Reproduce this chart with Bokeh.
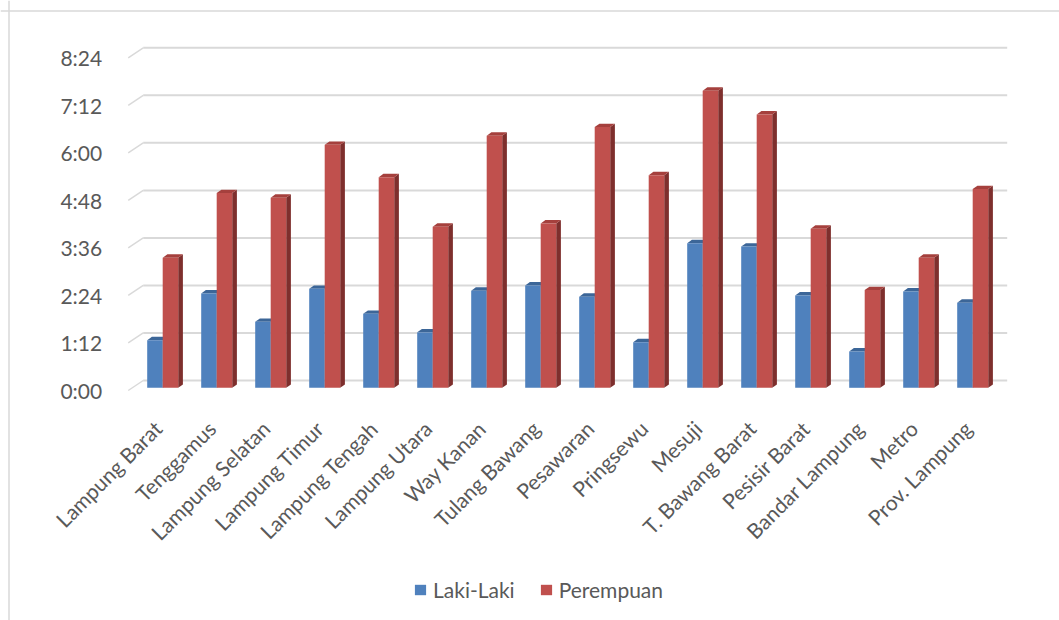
import math

from bokeh.plotting import figure
from bokeh.models import Range1d, LinearAxis, FixedTicker, Legend, Span
from bokeh.embed import file_html
from bokeh.resources import INLINE

# Rata-rata waktu (menit) per kabupaten/kota
categories = [
    "Lampung Barat", "Tenggamus", "Lampung Selatan", "Lampung Timur",
    "Lampung Tengah", "Lampung Utara", "Way Kanan", "Tulang Bawang",
    "Pesawaran", "Pringsewu", "Mesuji", "T. Bawang Barat", "Pesisir Barat",
    "Bandar Lampung", "Metro", "Prov. Lampung",
]
laki_laki = [72, 143, 100, 150, 112, 84, 147, 155, 138, 69, 219, 214, 140, 55, 146, 129]
perempuan = [197, 295, 288, 368, 319, 244, 382, 249, 395, 322, 450, 414, 241, 148, 197, 301]

tick_minutes = [0, 72, 144, 216, 288, 360, 432, 504]
tick_labels = ["0:00", "1:12", "2:24", "3:36", "4:48", "6:00", "7:12", "8:24"]

BLUE, BLUE_TOP, BLUE_SIDE = "#4F81BD", "#3C6698", "#2F5079"
RED, RED_TOP, RED_SIDE = "#C0504D", "#A5403D", "#7E2F2D"
GRID = "#D9D9D9"
TEXT = "#595959"
FONT = "Lato"

# canvas and oblique-projection geometry (pixels)
W, H = 1059, 620
WALL_X0, WALL_Y0 = 142.7, 380.0      # back wall origin on the canvas
PX_CAT = 54.0                        # width of one category
PX_MIN = 47.53 / 72.0                # pixels per minute


def dx(px):
    return px / PX_CAT


def dy(px):
    return px / PX_MIN


LBL_DX, LBL_DY = dx(-15), dy(-10)    # front edge of the floor (axis labels)
BAR_DX, BAR_DY = dx(-7.5), dy(-7.3)  # plane of the column fronts
DEP_DX, DEP_DY = dx(4.7), dy(3.4)    # column depth
BAR_W = dx(15.5)
CAT_LABEL_DX = dx(-5)                # anchor of the rotated category labels

x_start, x_end = -WALL_X0 / PX_CAT, (W - WALL_X0) / PX_CAT
y_start, y_end = -(H - WALL_Y0) / PX_MIN, WALL_Y0 / PX_MIN

p = figure(
    width=W, height=H,
    x_range=Range1d(x_start, x_end), y_range=Range1d(y_start, y_end),
    x_axis_type=None, y_axis_type=None,
    output_backend="svg", toolbar_location=None,
    min_border=0, outline_line_color=None,
    background_fill_color="white", border_fill_color="white",
)
p.xgrid.visible = False
p.ygrid.visible = False

# chart-area border (top and left)
p.add_layout(Span(location=x_start + dx(8.5), dimension="height",
                  line_color=GRID, line_width=1.5))
p.add_layout(Span(location=y_end - dy(10.5), dimension="width",
                  line_color=GRID, line_width=1.5))

# back-wall gridlines and their floor diagonals
n = len(categories)
p.segment(x0=[0] * len(tick_minutes), y0=tick_minutes,
          x1=[n] * len(tick_minutes), y1=tick_minutes,
          line_color=GRID, line_width=2)
p.segment(x0=[LBL_DX] * len(tick_minutes), y0=[t + LBL_DY for t in tick_minutes],
          x1=[0] * len(tick_minutes), y1=tick_minutes,
          line_color=GRID, line_width=1.5)


def columns(values, offset, front, top, side):
    lefts, rights, bottoms, tops = [], [], [], []
    for k, v in enumerate(values):
        c = k + 0.5 + BAR_DX
        left = c + offset
        lefts.append(left)
        rights.append(left + BAR_W)
        bottoms.append(BAR_DY)
        tops.append(v + BAR_DY)
    p.patches(
        xs=[[r, r + DEP_DX, r + DEP_DX, r] for r in rights],
        ys=[[b, b + DEP_DY, t + DEP_DY, t] for b, t in zip(bottoms, tops)],
        fill_color=side, line_color=None)
    p.patches(
        xs=[[l, r, r + DEP_DX, l + DEP_DX] for l, r in zip(lefts, rights)],
        ys=[[t, t, t + DEP_DY, t + DEP_DY] for t in tops],
        fill_color=top, line_color=None)
    return p.quad(left=lefts, right=rights, bottom=bottoms, top=tops,
                  fill_color=front, line_color=None)


r_laki = columns(laki_laki, -BAR_W, BLUE, BLUE_TOP, BLUE_SIDE)
r_perempuan = columns(perempuan, 0.0, RED, RED_TOP, RED_SIDE)

# value axis on the front edge of the floor
p.extra_y_ranges = {"lbl": Range1d(y_start - LBL_DY, y_end - LBL_DY)}
yaxis = LinearAxis(
    y_range_name="lbl", fixed_location=LBL_DX,
    ticker=FixedTicker(ticks=tick_minutes),
    major_label_overrides=dict(zip(tick_minutes, tick_labels)),
    axis_line_color=None, major_tick_line_color=None, minor_tick_line_color=None,
    major_label_standoff=20,
    major_label_text_font=FONT, major_label_text_font_size="21px",
    major_label_text_color=TEXT,
)
p.add_layout(yaxis, "left")

# category axis
cat_shift = 0.5 + BAR_DX + CAT_LABEL_DX
p.extra_x_ranges = {"cat": Range1d(x_start - cat_shift, x_end - cat_shift)}
xaxis = LinearAxis(
    x_range_name="cat", fixed_location=LBL_DY,
    ticker=FixedTicker(ticks=list(range(n))),
    major_label_overrides={k: name for k, name in enumerate(categories)},
    major_label_orientation=math.pi / 4,
    axis_line_color=None, major_tick_line_color=None, minor_tick_line_color=None,
    major_label_standoff=28,
    major_label_text_font=FONT, major_label_text_font_size="21px",
    major_label_text_color=TEXT,
)
p.add_layout(xaxis, "below")

legend = Legend(
    items=[("Laki-Laki", [r_laki]), ("Perempuan", [r_perempuan])],
    orientation="horizontal", location=(413, 18),
    padding=0, margin=0, spacing=24, label_standoff=6,
    glyph_width=14, glyph_height=13, label_height=24,
    label_text_font=FONT, label_text_font_size="21px", label_text_color=TEXT,
    background_fill_alpha=0, border_line_color=None,
)
p.add_layout(legend)

open("out.html", "w").write(file_html(p, INLINE))
